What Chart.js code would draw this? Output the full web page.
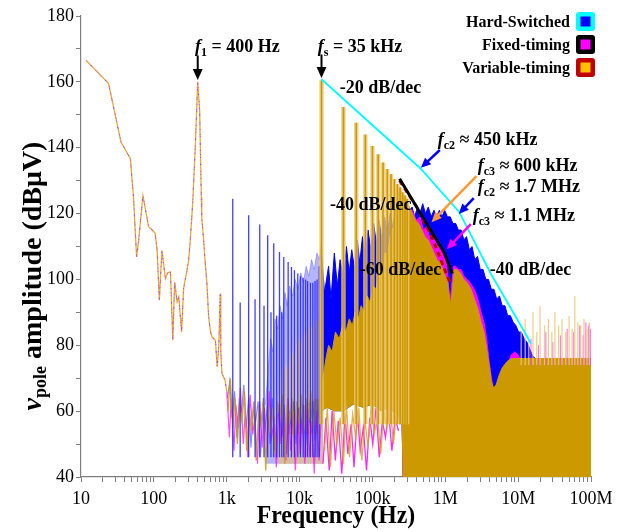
<!DOCTYPE html>
<html>
<head>
<meta charset="utf-8">
<script src="https://cdn.jsdelivr.net/npm/chart.js@4.4.0/dist/chart.umd.min.js"></script>
<style>
  html, body { margin: 0; padding: 0; background: #fff; }
</style>
</head>
<body>
<canvas id="spectrum" width="635" height="532"></canvas>
<script>
// axis ticks
const xTickValues = [10, 100, 1e3, 1e4, 1e5, 1e6, 1e7, 1e8]
const xTickLabels = ['10', '100', '1k', '10k', '100k', '1M', '10M', '100M']

// 10 Hz - 1 kHz trace (all three converters overlap here)
const lowFreq = [11.8, 23.9, 35.4, 47.6, 52.5, 58, 62, 70.8, 84.6, 95, 104, 111, 119, 129, 144, 155, 169, 182, 193, 208, 220, 240, 256, 285, 300, 315, 341, 372, 400, 425, 448, 455, 483, 495, 535, 565, 600, 630, 700, 740, 780, 815, 830, 860, 950, 1000]
const lowDb = [166.5, 159.5, 141.7, 136.7, 125, 106.8, 112, 125.5, 116, 115, 114, 108.8, 93.7, 108.8, 100.3, 102, 102.3, 81.5, 99.2, 93.2, 94.7, 84, 97.2, 102.8, 105.8, 111.4, 123, 141.3, 160, 151.4, 125, 118.5, 111.9, 108, 98.7, 88.6, 84, 82.5, 81.5, 73.4, 80, 95.7, 78, 71.4, 69.4, 66]

// 1 kHz - 20 kHz noise floor
const magFloorF = [1000, 1090, 1150, 1260, 1330, 1450, 1540, 1690, 1800, 1950, 2100, 2280, 2430, 2650, 2830, 3070, 3300, 3550, 3850, 4120, 4480, 4800, 5200, 5550, 6000, 6500, 6950, 7550, 8100, 8750, 9400, 10200, 10900, 11800, 12700, 13700, 14800, 15900, 17100, 18500, 19800]
const magFloorDb = [66, 52, 64, 48, 62, 55, 67, 50, 60, 46, 65, 53, 58, 44, 63, 49, 61, 47, 66, 52, 57, 43, 62, 50, 60, 45, 64, 48, 59, 42, 61, 47, 58, 44, 63, 46, 57, 41, 60, 45, 58]
const goldFloorF = [1040, 1120, 1210, 1300, 1400, 1500, 1620, 1750, 1880, 2030, 2190, 2360, 2540, 2740, 2950, 3180, 3430, 3700, 3990, 4300, 4640, 5000, 5390, 5810, 6260, 6750, 7270, 7840, 8450, 9110, 9820, 10600, 11400, 12300, 13300, 14300, 15400, 16600, 17900, 19300]
const goldFloorDb = [60, 70, 55, 64, 50, 62, 57, 66, 48, 61, 54, 63, 45, 60, 56, 64, 42, 62, 53, 61, 47, 63, 58, 65, 44, 62, 57, 64, 52, 63, 56, 65, 54, 64, 57, 66, 55, 64, 58, 65]
const blueFloorF = [1020, 1100, 1190, 1280, 1380, 1480, 1600, 1720, 1850, 2000, 2150, 2320, 2500, 2700, 2900, 3130, 3370, 3630, 3920, 4220, 4550, 4900, 5280, 5700, 6140, 6620, 7130, 7690, 8290, 8930, 9630, 10400, 11200, 12000, 13000, 14000, 15100, 16300, 17500, 18900]
const blueFloorDb = [64, 69, 58, 66, 52, 63, 60, 68, 55, 64, 49, 61, 57, 63, 46, 60, 55, 62, 50, 64, 48, 58, 60, 52, 62, 47, 60, 55, 63, 50, 61, 54, 62, 49, 60, 56, 63, 51, 60, 58]
// denser variable-timing band just below 20 kHz
const goldBandF = [6500, 8000, 10000, 12500, 15500, 19500]
const goldBandDb = [57, 60, 61, 62, 63, 64]

// 20 kHz - 250 kHz floor under the harmonics
const midMagF = [21000, 23000, 25500, 28000, 31000, 34000, 38000, 42000, 46000, 51000, 56000, 62000, 68000, 75000, 83000, 92000, 101000, 112000, 124000, 137000, 151000, 167000, 185000, 205000, 228000]
const midMagDb = [44, 58, 42, 60, 45, 57, 41, 59, 47, 56, 43, 60, 48, 55, 42, 58, 50, 61, 46, 57, 52, 60, 48, 58, 54]
const midGoldF = [22000, 24000, 26500, 29500, 32500, 36000, 40000, 44000, 48500, 53500, 59000, 65000, 71500, 79000, 87000, 96500, 106000, 118000, 130000, 143000, 158000, 175000, 195000, 216000, 240000]
const midGoldDb = [48, 61, 43, 60, 50, 58, 44, 62, 46, 59, 52, 61, 45, 57, 49, 62, 53, 58, 47, 60, 55, 61, 50, 62, 56]

// hard-switched low-frequency harmonics
const blueSpikeF = [1210, 1530, 2000, 2450, 2840, 3250, 3650, 4050, 4420, 4850, 5300, 5700, 6070, 6970, 7740, 8500, 9450, 10300, 11200, 12100, 12900, 14100, 15200, 16300, 17400, 18600]
const blueSpikeDb = [124.5, 93, 119.5, 94, 116.7, 92, 113.4, 90, 111, 89, 108.3, 90, 106.8, 105.3, 103.8, 102.8, 101.8, 101, 100.5, 100, 99.5, 99, 99, 99.5, 100, 104]
const lightBlueF = [3400, 4000, 4300, 4600, 5000, 5400, 5800, 6300, 6800, 7300, 8000, 8700, 9500, 10400, 11300, 12300, 13400, 14600, 15900, 17300, 18800, 20000, 21000]
const lightBlueDb = [62, 82, 78, 88, 85, 92, 88, 96, 92, 98, 95, 100, 97, 102, 99, 104, 101, 106, 103, 108, 106, 112, 60]
const lightGoldF = [5000, 5600, 6200, 7000, 7800, 8600, 9500, 10500, 11500, 12600, 13800, 15100, 16500, 18000, 19500, 21000]
const lightGoldDb = [62, 70, 74, 72, 78, 76, 82, 80, 84, 82, 86, 84, 88, 86, 92, 66]

// switching harmonics (variable-timing peaks)
const goldHarmF = [20000, 40000, 60000, 80000, 100000, 120000, 140000, 160000, 180000, 200000, 220000, 240000, 260000, 280000, 300000]
const goldHarmDb = [160.5, 152.4, 147.6, 144, 140.5, 138, 135.5, 133.5, 132, 130.5, 129, 128, 126.5, 125.5, 124.5]

// spectrum envelopes above 20 kHz
const hardF = [20000, 22000, 25000, 27000, 30000, 33000, 36000, 40000, 44000, 48000,
  52000, 57000, 62000, 67000, 73000, 80000, 87000, 95000, 104000, 113000,
  123000, 135000, 147000, 160000, 175000, 190000, 208000, 227000, 247000, 270000,
  295000, 320000, 350000, 380000, 415000, 450000, 490000, 535000, 585000, 640000,
  700000, 760000, 830000, 900000, 980000, 1070000, 1170000, 1270000, 1390000, 1510000,
  1650000, 1800000, 1960000, 2140000, 2330000, 2540000, 2770000, 3020000, 3300000, 3600000,
  3920000, 4280000, 4660000, 5080000, 5540000, 6040000, 6590000, 7180000, 7830000, 8540000,
  9310000, 10150000, 11070000, 12070000, 13160000, 14350000, 15650000, 17060000, 18600000, 20300000]
const hardDb = [108, 96, 104, 94, 108, 98, 106, 100, 110, 102,
  109, 103, 112, 105, 113, 107, 115, 109, 117, 111,
  118, 112, 119, 114, 120, 116, 121, 117, 122, 118,
  123, 120, 122, 119, 122, 120, 123, 120, 122, 119,
  121, 119, 121, 119, 121, 119, 119, 117, 117, 115,
  115, 112, 113, 109, 110, 106, 107, 103, 103, 100,
  100, 97, 97, 94, 95, 92, 92, 89, 89, 87,
  86, 84, 84, 82, 81, 79, 77, 76, 74, 72]
const fixedF = [250000, 300000, 350000, 400000, 450000, 500000, 560000, 620000, 700000, 780000,
  860000, 950000, 1020000, 1080000, 1130000, 1180000, 1230000, 1300000, 1400000, 1500000,
  1650000, 1800000, 2000000, 2200000, 2500000, 2800000, 3100000, 3400000, 3700000, 4000000,
  4300000, 4600000, 4900000, 5300000, 5800000, 6400000, 7200000, 8000000, 9000000, 10000000, 12000000]
const fixedDb = [126, 122, 121, 118, 119, 115, 116, 112, 113, 110,
  110, 107, 106, 101, 96, 94, 99, 104, 104, 103,
  103, 101, 100, 99, 97, 94, 90, 87, 82, 75,
  70, 66, 67, 69, 71, 73, 74, 77, 78, 77, 74]
const variableF = [19500, 20000, 21000, 23000, 25000, 28000, 31000, 35000, 39000, 43000,
  48000, 53000, 58000, 64000, 70000, 77000, 85000, 93000, 102000, 112000,
  123000, 135000, 148000, 162000, 178000, 195000, 214000, 236000, 260000, 290000,
  320000, 355000, 390000, 430000, 475000, 525000, 580000, 640000, 700000, 770000,
  850000, 930000, 1000000, 1080000, 1150000, 1200000, 1260000, 1330000, 1450000, 1600000,
  1800000, 2000000, 2250000, 2500000, 2800000, 3100000, 3400000, 3700000, 4000000, 4300000,
  4600000, 5000000, 5500000, 6000000, 7000000, 8000000, 10000000, 100000000]
const variableDb = [63, 66, 70, 76, 80, 78, 84, 82, 86, 84,
  88, 86, 90, 88, 92, 90, 95, 93, 98, 97,
  103, 102, 108, 108, 114, 116, 122, 128, 126, 124,
  122, 120, 118, 117, 115, 113, 112, 110, 108, 106,
  105, 103, 101, 99, 94, 93, 98, 103, 103, 102,
  100, 99, 97, 94, 91, 87, 84, 79, 74, 69,
  67, 68, 71, 73, 75, 76, 76, 76]
// lower edge of the solid spectrum area above 20 kHz
const areaLowF = [19500, 24000, 30000, 40000, 55000, 75000, 100000, 130000, 170000, 210000, 250000, 260000, 100000000]
const areaLowDb = [60, 61, 60, 60, 62, 61, 62, 60, 61, 59, 58, 40, 40]

// high-frequency ringing peaks
const hfGoldF = [11e6, 12.5e6, 14e6, 16e6, 18e6, 20e6, 23e6, 26e6, 29e6, 32e6, 36e6, 40e6, 45e6, 50e6, 55e6, 60e6, 66e6, 72e6, 80e6, 88e6, 95e6]
const hfGoldDb = [84, 88, 82, 90, 84, 92, 86, 88, 84, 90, 86, 88, 84, 89, 85, 95, 87, 86, 88, 85, 87]
const hfMagF = [15e6, 19e6, 24e6, 30e6, 38e6, 47e6, 58e6, 70e6, 78e6, 85e6, 92e6, 98e6]
const hfMagDb = [82, 80, 84, 81, 83, 85, 84, 86, 83, 87, 86, 85]

// asymptotes
const cyanF = [20000, 457000, 1550000, 4200000, 13400000, 15000000]
const cyanDb = [160.8, 133.7, 120.5, 101.8, 82.5, 80.5]
const blackF = [236000, 955000, 1250000]
const blackDb = [130.6, 108.3, 101.8]
const redF = [236000, 420000, 650000, 850000, 1000000, 1180000]
const redDb = [130, 121.5, 113, 106.5, 102.5, 98.8]

const SERIF = '"Liberation Serif", "Times New Roman", serif'

const pts = (fs, dbs) => fs.map((f, i) => ({ x: f, y: dbs[i] }))
const spikes = (fs, dbs, base) => {
  const out = []
  fs.forEach((f, i) => {
    out.push({ x: f, y: base }, { x: f, y: dbs[i] }, { x: f, y: null })
  })
  return out
}
const line = (data, color, width, extra) => Object.assign({
  data: data, borderColor: color, backgroundColor: color, borderWidth: width,
  showLine: true, pointRadius: 0, fill: false, tension: 0, spanGaps: false
}, extra || {})

// bottom to top
const layers = [
  line(pts(lightBlueF, lightBlueDb), 'rgba(90,90,255,0.45)', 1, { fill: { value: 44 } }),
  line(pts(lightGoldF, lightGoldDb), 'rgba(232,195,110,0.6)', 1, { fill: { value: 44 } }),
  line(pts(goldBandF, goldBandDb), 'rgba(205,155,20,0.5)', 1, { fill: { value: 53 } }),
  line(pts(blueFloorF, blueFloorDb), 'rgba(70,70,255,0.65)', 1.2),
  line(pts(magFloorF, magFloorDb), 'rgba(255,0,255,0.7)', 1.2),
  line(pts(goldFloorF, goldFloorDb), 'rgba(205,155,20,0.85)', 1.4),
  line(spikes(blueSpikeF, blueSpikeDb, 46), 'rgba(30,30,255,0.85)', 1.3),
  line(pts(areaLowF, areaLowDb), 'rgba(0,0,0,0)', 0),
  line(pts(hardF, hardDb), '#0000FF', 1, { fill: 'areaLow' }),
  line(pts(fixedF, fixedDb), '#FF00FF', 1, { fill: 'areaLow' }),
  line(pts(variableF, variableDb), '#CC9900', 1, { fill: 'areaLow' }),
  line(pts(midMagF, midMagDb), 'rgba(255,0,255,0.85)', 1.3),
  line(pts(midGoldF, midGoldDb), 'rgba(215,165,40,0.85)', 1.3),
  line(spikes(goldHarmF, goldHarmDb, 56), 'rgba(236,200,120,0.8)', 4.5),
  line(spikes(goldHarmF, goldHarmDb, 56), '#CC9900', 1.6),
  line(spikes(hfMagF, hfMagDb, 74), 'rgba(255,60,255,0.8)', 1),
  line(spikes(hfGoldF, hfGoldDb, 74), 'rgba(236,200,120,0.9)', 1.2),
  line(pts(lowFreq, lowDb), 'rgba(225,165,60,0.95)', 1.3),
  line(pts(lowFreq, lowDb), 'rgba(255,0,255,0.8)', 1, { borderDash: [1, 6] }),
  line(pts(lowFreq, lowDb), 'rgba(60,60,255,0.7)', 1, { borderDash: [1, 9], borderDashOffset: 3 }),
  line(pts(cyanF, cyanDb), '#00FFFF', 1.8),
  line(pts(redF, redDb), '#C00000', 3, { borderDash: [5, 4] }),
  line(pts(blackF, blackDb), '#000000', 3)
]
// the three spectrum areas fill down to the lower edge dataset
const lowIdx = layers.findIndex(d => d.borderWidth === 0)
layers.forEach((d, i) => {
  d.order = layers.length - i
  if (d.fill === 'areaLow') d.fill = lowIdx
})

const xTicks = []
xTickValues.forEach((v, i) => {
  if (i === xTickValues.length - 1) { xTicks.push(v); return }
  for (let m = 1; m < 10; m++) xTicks.push(m * v)
})

const drawRuns = (ctx, parts, x, y, align) => {
  let w = 0
  parts.forEach(p => { ctx.font = p[1]; w += ctx.measureText(p[0]).width })
  let cx = align === 'center' ? x - w / 2 : (align === 'right' ? x - w : x)
  parts.forEach(p => {
    ctx.font = p[1]
    ctx.fillText(p[0], cx, y + (p[2] || 0))
    cx += ctx.measureText(p[0]).width
  })
}

const drawArrow = (ctx, x1, y1, x2, y2, color, lw, head) => {
  const a = Math.atan2(y2 - y1, x2 - x1)
  const c = Math.cos(a), s = Math.sin(a)
  ctx.strokeStyle = color
  ctx.fillStyle = color
  ctx.lineWidth = lw
  ctx.beginPath()
  ctx.moveTo(x1, y1)
  ctx.lineTo(x2 - c * head * 0.8, y2 - s * head * 0.8)
  ctx.stroke()
  ctx.beginPath()
  ctx.moveTo(x2, y2)
  ctx.lineTo(x2 - head * c + head * 0.45 * s, y2 - head * s - head * 0.45 * c)
  ctx.lineTo(x2 - head * c - head * 0.45 * s, y2 - head * s + head * 0.45 * c)
  ctx.closePath()
  ctx.fill()
}

const B = 'bold 18px ' + SERIF
const I = 'italic bold 18px ' + SERIF
const S = 'bold 12px ' + SERIF
const fLabel = (sub, rest) => [['f', I], [sub, S, 4], [rest, B]]

const overlay = {
  id: 'overlay',
  afterDraw(chart) {
    const ctx = chart.ctx
    const xs = chart.scales.x
    const ys = chart.scales.y
    const P = (f, db) => [xs.getPixelForValue(f), ys.getPixelForValue(db)]
    ctx.save()
    ctx.textBaseline = 'alphabetic'
    ctx.fillStyle = '#000'

    // arrows
    let a = P(400, 168), b = P(400, 160.6)
    drawArrow(ctx, a[0], a[1], b[0], b[1], '#000', 2, 11)
    a = P(20000, 168.3); b = P(20000, 161.2)
    drawArrow(ctx, a[0], a[1], b[0], b[1], '#000', 2, 11)
    a = P(841000, 139.3); b = P(462000, 133.9)
    drawArrow(ctx, a[0], a[1], b[0], b[1], '#0000FF', 2.5, 10)
    a = P(2680000, 131.4); b = P(647000, 117.4)
    drawArrow(ctx, a[0], a[1], b[0], b[1], '#FF9933', 2.5, 10)
    a = P(2460000, 124.7); b = P(1530000, 119.9)
    drawArrow(ctx, a[0], a[1], b[0], b[1], '#0000FF', 2.5, 10)
    a = P(2240000, 116.8); b = P(1050000, 109.2)
    drawArrow(ctx, a[0], a[1], b[0], b[1], '#FF00FF', 2.5, 10)

    // labels
    ctx.fillStyle = '#000'
    let p = P(366, 169.1)
    drawRuns(ctx, fLabel('1', ' = 400 Hz'), p[0], p[1])
    p = P(17800, 169.1)
    drawRuns(ctx, fLabel('s', ' = 35 kHz'), p[0], p[1])
    p = P(35700, 156.6)
    drawRuns(ctx, [['-20 dB/dec', B]], p[0], p[1])
    p = P(789000, 140.8)
    drawRuns(ctx, fLabel('c2', ' \u2248 450 kHz'), p[0], p[1])
    p = P(2790000, 132.9)
    drawRuns(ctx, fLabel('c3', ' \u2248 600 kHz'), p[0], p[1])
    p = P(2790000, 126.6)
    drawRuns(ctx, fLabel('c2', ' \u2248 1.7 MHz'), p[0], p[1])
    p = P(2380000, 117.7)
    drawRuns(ctx, fLabel('c3', ' \u2248 1.1 MHz'), p[0], p[1])
    p = P(26100, 121.1)
    drawRuns(ctx, [['-40 dB/dec', B]], p[0], p[1])
    p = P(67100, 101.3)
    drawRuns(ctx, [['-60 dB/dec', B]], p[0], p[1])
    p = P(4070000, 101.3)
    drawRuns(ctx, [['-40 dB/dec', B]], p[0], p[1])

    // legend
    const legend = [
      ['Hard-Switched', '#00FFFF', '#0000FF'],
      ['Fixed-timing', '#000000', '#FF00FF'],
      ['Variable-timing', '#C00000', '#FFC000']
    ]
    legend.forEach((row, i) => {
      const cy = 21.5 + i * 23
      ctx.fillStyle = '#000'
      ctx.textAlign = 'right'
      ctx.font = 'bold 16px ' + SERIF
      ctx.fillText(row[0], 570, cy + 5.5)
      ctx.textAlign = 'left'
      ctx.fillStyle = row[1]
      ctx.beginPath()
      if (ctx.roundRect) ctx.roundRect(576, cy - 9.5, 19, 19, 3)
      else ctx.rect(576, cy - 9.5, 19, 19)
      ctx.fill()
      ctx.fillStyle = row[2]
      ctx.fillRect(580.5, cy - 5, 10, 10)
    })

    // axis titles
    ctx.fillStyle = '#000'
    ctx.save()
    ctx.translate(336, 523)
    ctx.scale(0.95, 1)
    drawRuns(ctx, [['Frequency (Hz)', 'bold 25px ' + SERIF]], 0, 0, 'center')
    ctx.restore()
    ctx.save()
    ctx.translate(41, 276)
    ctx.rotate(-Math.PI / 2)
    drawRuns(ctx, [['v', 'italic bold 28px ' + SERIF], ['pole', 'bold 18px ' + SERIF, 5], [' amplitude (dB\u03bcV)', 'bold 28px ' + SERIF]], 0, 0, 'center')
    ctx.restore()
    ctx.restore()
  }
}

new Chart(document.getElementById('spectrum'), {
  type: 'scatter',
  data: { datasets: layers },
  options: {
    responsive: false,
    animation: false,
    events: [],
    layout: { padding: { left: 0, right: 44, top: 16, bottom: 0 } },
    plugins: { legend: { display: false }, tooltip: { enabled: false } },
    scales: {
      x: {
        type: 'logarithmic',
        min: 10,
        max: 1e8,
        afterBuildTicks: (scale) => { scale.ticks = xTicks.map(v => ({ value: v })) },
        afterFit: (scale) => { scale.height = 55 },
        grid: { drawOnChartArea: false, drawTicks: true, tickLength: 5, color: '#808080' },
        border: { color: '#808080', width: 1.2 },
        ticks: {
          autoSkip: false, maxRotation: 0, minRotation: 0, padding: 6,
          color: '#000', font: { family: SERIF, size: 18 },
          callback: (v) => { const i = xTickValues.indexOf(v); return i >= 0 ? xTickLabels[i] : '' }
        }
      },
      y: {
        min: 40,
        max: 180,
        afterFit: (scale) => { scale.width = 81 },
        grid: { drawOnChartArea: false, drawTicks: true, tickLength: 5, color: '#808080' },
        border: { color: '#808080', width: 1.2 },
        ticks: {
          stepSize: 10, padding: 2, color: '#000', font: { family: SERIF, size: 18 },
          callback: (v) => v % 20 === 0 ? v : ''
        }
      }
    }
  },
  plugins: [overlay]
})
</script>
</body>
</html>
